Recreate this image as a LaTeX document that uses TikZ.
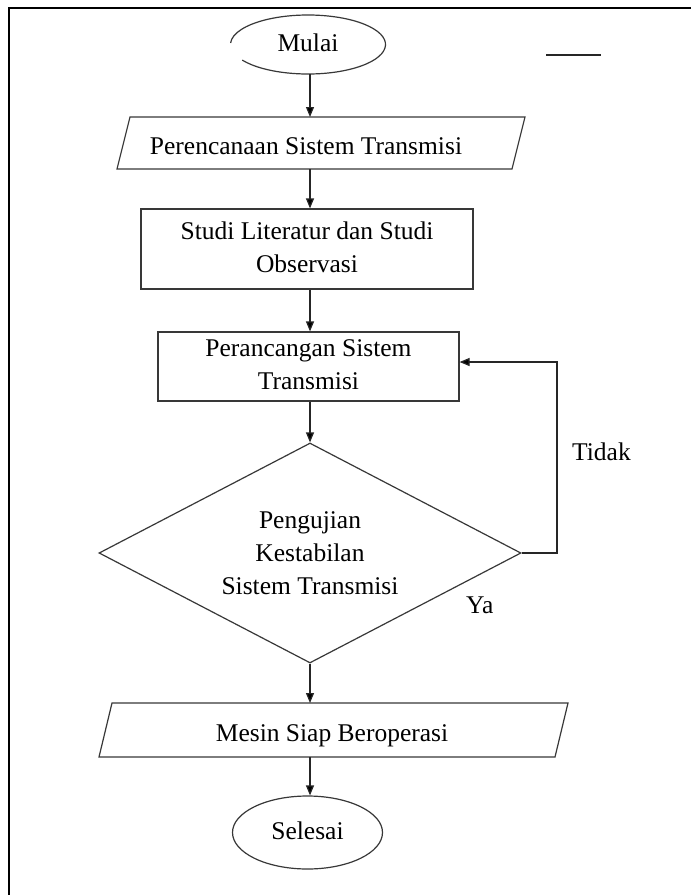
\documentclass[tikz,border=0pt]{standalone}
\usepackage{fontspec}
\setmainfont{Liberation Serif}
\usetikzlibrary{shapes.geometric,arrows.meta}
\newcommand{\ls}{\strut}
\begin{document}
\begin{tikzpicture}[x=1pt,y=-1pt,
  every node/.style={font=\fontsize{25.5}{33}\selectfont, text=black},
  shp/.style={draw=black!78, line width=1.2pt},
  arr/.style={draw=black!85, line width=1.2pt, -{Triangle[length=10pt,width=8pt,fill=black]}},
  frame/.style={draw=black, line width=2.6pt},
  box/.style={shp, rectangle, align=center, inner sep=0pt},
  lbl/.style={inner sep=0pt, align=center}]
\useasboundingbox (0,0) rectangle (691,895);
\fill[white] (0,0) rectangle (691,895);
% frame
\draw[frame] (9,895) -- (9,8) -- (691,8);
\coordinate (ax) at (310,0);
% start
\node[ellipse, minimum width=155pt, minimum height=59pt, inner sep=0pt] (mulai) at (308,44.5) {\ls Mulai};
\draw[shp] ([shift={(212:77.5pt and 29.5pt)}]mulai.center) arc[start angle=212, end angle=537, x radius=77.5pt, y radius=29.5pt];
\draw[line width=1.2pt, black!85] (546,55) -- (601,55);
% plan
\node[lbl] (p1) at (306,148) {\ls Perencanaan Sistem Transmisi};
\coordinate (p1tl) at (130,117);
\coordinate (p1tr) at (525,117);
\coordinate (p1br) at (512,169);
\coordinate (p1bl) at (117,169);
\draw[shp] (p1tl) -- (p1tr) -- (p1br) -- (p1bl) -- cycle;
% study
\node[box, minimum width=332pt, minimum height=80pt] (r1) at (307,249) {\ls Studi Literatur dan Studi\\\ls Observasi};
% design
\node[box, minimum width=301pt, minimum height=69pt] (r2) at (308.5,366.5) {\ls Perancangan Sistem\\\ls Transmisi};
% decision
\node[diamond, shp, minimum width=422pt, minimum height=220pt, inner sep=0pt, aspect=1.92] (d) at (310,553) {};
\node[lbl] (dt) at (310,555) {\ls Pengujian\\\ls Kestabilan\\\ls Sistem Transmisi};
\node[inner sep=0pt, anchor=base west] (tidak) at (572,460) {Tidak};
\node[inner sep=0pt, anchor=base west] (ya) at (466,613) {Ya};
% ready
\node[lbl] (p2) at (332,734.5) {\ls Mesin Siap Beroperasi};
\coordinate (p2tl) at (112,703);
\coordinate (p2tr) at (568,703);
\coordinate (p2br) at (555,757);
\coordinate (p2bl) at (99,757);
\draw[shp] (p2tl) -- (p2tr) -- (p2br) -- (p2bl) -- cycle;
% end
\node[ellipse, shp, minimum width=150pt, minimum height=73pt, inner sep=0pt] (selesai) at (307.5,832.5) {\ls Selesai};
% connectors
\draw[arr] (ax |- mulai.south) -- (ax |- p1tl);
\draw[arr] (ax |- p1bl) -- (ax |- r1.north);
\draw[arr] (ax |- r1.south) -- (ax |- r2.north);
\draw[arr] (ax |- r2.south) -- (d.north);
\draw[arr] (d.south) -- (ax |- p2tl);
\draw[arr] (ax |- p2bl) -- (ax |- selesai.north);
\coordinate (lp) at (557,553);
\draw[arr] (d.east) -- (lp) |- ([yshift=4.5pt]r2.east);
\end{tikzpicture}
\end{document}
